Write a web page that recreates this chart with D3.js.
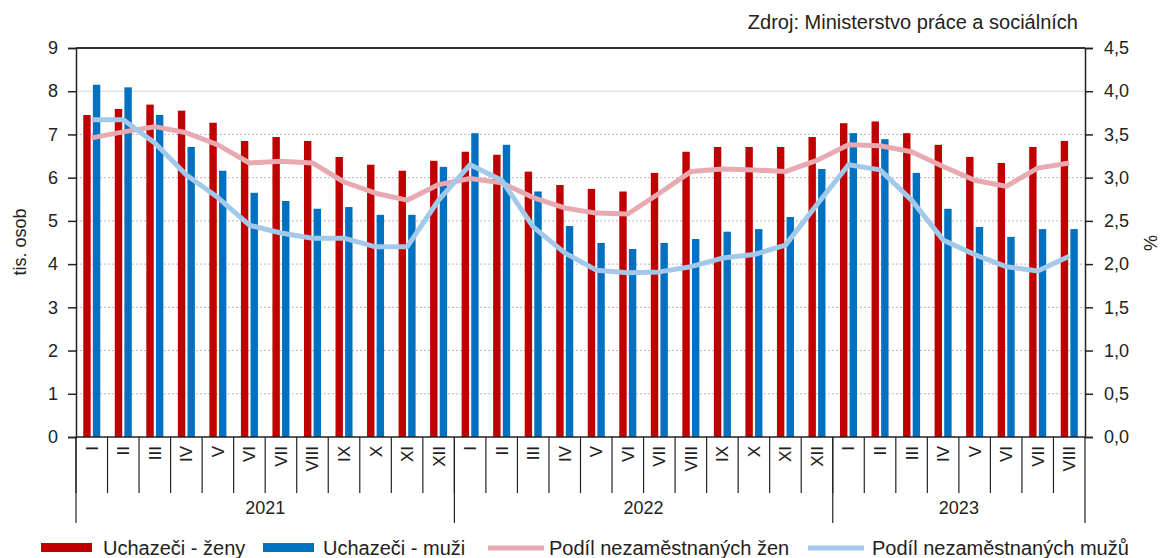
<!DOCTYPE html>
<html>
<head>
<meta charset="utf-8">
<script src="https://cdn.jsdelivr.net/npm/d3@7"></script>
<style>
    body { margin: 0; background: #fff; }
    text { font-family: "Liberation Sans", Arial, sans-serif; fill: #222; }
</style>
</head>
<body>
<div id="chart"></div>
<script>
// data
let years = ["2021", "2022", "2023"];
let months = ["I", "II", "III", "IV", "V", "VI", "VII", "VIII", "IX", "X", "XI", "XII"];
let monthsPerYear = [12, 12, 8];

let zeny = [7.45, 7.59, 7.69, 7.55, 7.27, 6.85, 6.94, 6.85, 6.48, 6.30, 6.16, 6.39,
            6.60, 6.53, 6.14, 5.83, 5.74, 5.68, 6.11, 6.60, 6.71, 6.71, 6.71, 6.94,
            7.26, 7.30, 7.03, 6.76, 6.48, 6.34, 6.71, 6.85];
let muzi = [8.15, 8.09, 7.45, 6.71, 6.16, 5.65, 5.46, 5.28, 5.32, 5.14, 5.14, 6.25,
            7.03, 6.76, 5.68, 4.88, 4.49, 4.35, 4.49, 4.58, 4.75, 4.81, 5.09, 6.20,
            7.03, 6.89, 6.11, 5.28, 4.86, 4.63, 4.81, 4.81];
let podilZen = [3.46, 3.53, 3.59, 3.52, 3.38, 3.17, 3.19, 3.17, 2.95, 2.82, 2.74, 2.92,
                2.99, 2.94, 2.77, 2.65, 2.59, 2.58, 2.82, 3.07, 3.10, 3.09, 3.07, 3.20,
                3.38, 3.37, 3.30, 3.13, 2.97, 2.90, 3.11, 3.17];
let podilMuzu = [3.67, 3.67, 3.40, 3.03, 2.77, 2.45, 2.36, 2.30, 2.30, 2.20, 2.20, 2.74,
                 3.15, 2.97, 2.43, 2.13, 1.93, 1.90, 1.91, 1.97, 2.07, 2.11, 2.22, 2.69,
                 3.15, 3.09, 2.74, 2.28, 2.11, 1.97, 1.92, 2.09];

let leftTicks = [0, 1, 2, 3, 4, 5, 6, 7, 8, 9];
let rightTicks = [0, 0.5, 1, 1.5, 2, 2.5, 3, 3.5, 4, 4.5];

let colZeny = "#c00000", colMuzi = "#0070c0";
let colPodilZen = "#e8a9b0", colPodilMuzu = "#a3c9ea";

// build category list
let cats = [];
years.forEach((y, i) => {
    for (let m = 0; m < monthsPerYear[i]; m++) cats.push({ key: y + "-" + m, year: y, month: months[m] });
});
cats.forEach((c, i) => {
    c.zeny = zeny[i]; c.muzi = muzi[i];
    c.podilZen = podilZen[i]; c.podilMuzu = podilMuzu[i];
});

let fullWidth = 1162, fullHeight = 558;
let margin = { top: 48, right: 77, bottom: 121, left: 76 };
let width = fullWidth - margin.left - margin.right;
let height = fullHeight - margin.top - margin.bottom;

let svg = d3.select("#chart")
    .append("svg")
    .attr("width", fullWidth)
    .attr("height", fullHeight);

svg.append("text")
    .attr("x", 1078)
    .attr("y", 29)
    .attr("text-anchor", "end")
    .style("font-size", "20px")
    .text("Zdroj: Ministerstvo práce a sociálních");

let g = svg.append("g")
    .attr("transform", `translate(${margin.left},${margin.top})`);

let x = d3.scaleBand()
    .domain(cats.map(d => d.key))
    .range([0, width]);

let y = d3.scaleLinear().domain([0, 9]).range([height, 0]);
let y2 = d3.scaleLinear().domain([0, 4.5]).range([height, 0]);

// grid
g.selectAll(".grid")
    .data(leftTicks.filter(t => t > 0 && t < 9))
    .enter()
    .append("line")
    .attr("class", "grid")
    .attr("x1", 0)
    .attr("x2", width)
    .attr("y1", d => y(d))
    .attr("y2", d => y(d))
    .style("stroke", d => d === 8 ? "#d9d9d9" : "#b8b4c4")
    .style("stroke-width", 1)
    .style("stroke-dasharray", d => d === 8 ? null : "2,2");

// bars
let bw = x.bandwidth() * 0.235;
let gap = x.bandwidth() * 0.07;

g.selectAll(".bar-z")
    .data(cats)
    .enter()
    .append("rect")
    .attr("x", d => x(d.key) + x.bandwidth() / 2 - gap / 2 - bw)
    .attr("y", d => y(d.zeny))
    .attr("width", bw)
    .attr("height", d => height - y(d.zeny))
    .attr("fill", colZeny);

g.selectAll(".bar-m")
    .data(cats)
    .enter()
    .append("rect")
    .attr("x", d => x(d.key) + x.bandwidth() / 2 + gap / 2)
    .attr("y", d => y(d.muzi))
    .attr("width", bw)
    .attr("height", d => height - y(d.muzi))
    .attr("fill", colMuzi);

// lines
let lineZ = d3.line()
    .x(d => x(d.key) + x.bandwidth() / 2)
    .y(d => y2(d.podilZen));
let lineM = d3.line()
    .x(d => x(d.key) + x.bandwidth() / 2)
    .y(d => y2(d.podilMuzu));

g.append("path")
    .datum(cats)
    .attr("d", lineZ)
    .attr("fill", "none")
    .attr("stroke", colPodilZen)
    .attr("stroke-width", 5)
    .attr("stroke-linejoin", "round");

g.append("path")
    .datum(cats)
    .attr("d", lineM)
    .attr("fill", "none")
    .attr("stroke", colPodilMuzu)
    .attr("stroke-width", 5)
    .attr("stroke-linejoin", "round");

// top frame line
g.append("line")
    .attr("x1", 0).attr("x2", width)
    .attr("y1", 0).attr("y2", 0)
    .style("stroke", "#333")
    .style("stroke-width", 2);

// left axis
let axL = g.append("g")
    .call(d3.axisLeft(y).tickValues(leftTicks).tickSize(8).tickPadding(10).tickFormat(d3.format("d")));
axL.selectAll("text").style("font-size", "18px").attr("fill", "#222");
axL.selectAll("line, path").style("stroke", "#222").style("stroke-width", 1.5);

// right axis
let axR = g.append("g")
    .attr("transform", `translate(${width},0)`)
    .call(d3.axisRight(y2).tickValues(rightTicks).tickSize(8).tickPadding(11)
        .tickFormat(d => d3.format(".1f")(d).replace(".", ",")));
axR.selectAll("text").style("font-size", "18px").attr("fill", "#222");
axR.selectAll("line, path").style("stroke", "#222").style("stroke-width", 1.5);

// bottom axis line
g.append("line")
    .attr("x1", 0).attr("x2", width)
    .attr("y1", height).attr("y2", height)
    .style("stroke", "#222")
    .style("stroke-width", 1.5);

// month separators and labels
g.selectAll(".sep")
    .data(cats)
    .enter()
    .append("line")
    .attr("x1", d => x(d.key))
    .attr("x2", d => x(d.key))
    .attr("y1", height)
    .attr("y2", height + 56)
    .style("stroke", "#222")
    .style("stroke-width", 1.2);

g.selectAll(".mlabel")
    .data(cats)
    .enter()
    .append("text")
    .attr("transform", d => `translate(${x(d.key) + x.bandwidth() / 2},${height + 9}) rotate(-90)`)
    .attr("text-anchor", "end")
    .attr("dy", "0.35em")
    .style("font-size", "17px")
    .text(d => d.month);

// year groups
let yearStarts = [];
let acc = 0;
years.forEach((yr, i) => {
    yearStarts.push({ year: yr, start: acc, end: acc + monthsPerYear[i] });
    acc += monthsPerYear[i];
});

g.selectAll(".ysep")
    .data(yearStarts.map(d => d.start).concat([cats.length]))
    .enter()
    .append("line")
    .attr("x1", d => d < cats.length ? x(cats[d].key) : width)
    .attr("x2", d => d < cats.length ? x(cats[d].key) : width)
    .attr("y1", height)
    .attr("y2", height + 86)
    .style("stroke", "#222")
    .style("stroke-width", 1.2);

g.selectAll(".ylabel")
    .data(yearStarts)
    .enter()
    .append("text")
    .attr("x", d => (x(cats[d.start].key) + (d.end < cats.length ? x(cats[d.end].key) : width)) / 2)
    .attr("y", height + 77)
    .attr("text-anchor", "middle")
    .style("font-size", "18px")
    .text(d => d.year);

// axis titles
svg.append("text")
    .attr("transform", "translate(26,242) rotate(-90)")
    .attr("text-anchor", "middle")
    .style("font-size", "18px")
    .text("tis. osob");

svg.append("text")
    .attr("transform", "translate(1150,243) rotate(90)")
    .attr("text-anchor", "middle")
    .attr("dy", "0.35em")
    .style("font-size", "18px")
    .text("%");

// legend
let legend = [
    { label: "Uchazeči - ženy", color: colZeny, type: "bar", x: 41, tx: 103 },
    { label: "Uchazeči - muži", color: colMuzi, type: "bar", x: 263, tx: 323 },
    { label: "Podíl nezaměstnaných žen", color: colPodilZen, type: "line", x: 488, tx: 549 },
    { label: "Podíl nezaměstnaných mužů", color: colPodilMuzu, type: "line", x: 808, tx: 872 }
];

let lg = svg.append("g");
legend.forEach(d => {
    if (d.type === "bar") {
        lg.append("rect")
            .attr("x", d.x).attr("y", 543)
            .attr("width", 51).attr("height", 9)
            .attr("fill", d.color);
    } else {
        lg.append("line")
            .attr("x1", d.x).attr("x2", d.x + 56)
            .attr("y1", 548).attr("y2", 548)
            .style("stroke", d.color)
            .style("stroke-width", 5);
    }
    lg.append("text")
        .attr("x", d.tx)
        .attr("y", 555)
        .style("font-size", "20px")
        .text(d.label);
});
</script>
</body>
</html>
